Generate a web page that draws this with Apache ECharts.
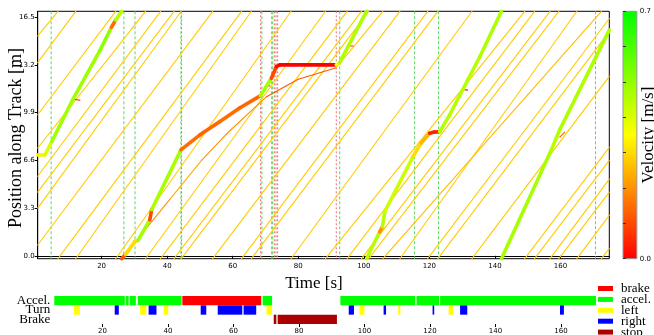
<!DOCTYPE html>
<html>
<head>
<meta charset="utf-8">
<script src="https://cdn.jsdelivr.net/npm/echarts@6/dist/echarts.min.js"></script>
<style>
  html, body { margin: 0; padding: 0; background: #fff; }
  #chart { width: 654px; height: 335px; }
</style>
</head>
<body>
<div id="chart"></div>
<script>
// axis ticks
const timeTicks = [20, 40, 60, 80, 100, 120, 140, 160];
const posTicks = [0.0, 3.3, 6.6, 9.9, 13.2, 16.5];
const velTicks = [0, 0.1, 0.2, 0.3, 0.4, 0.5, 0.6, 0.7];
const velLabels = [0, 0.7];
const rowNames = ['Accel.', 'Turn', 'Brake'];

// other robots: position at left edge, times they wrap round the track, position at right edge
const robotEntry = [15.2, 13.35, 9.75, 7.45, 5.5, 4.4, 3.3, 0.75];
const robotWraps = [
  [6.7, 62.7, 119.5],
  [12.1, 65.7, 122.6],
  [24.3, 77.8, 133.0],
  [33.4, 88.3, 149.1],
  [38.0, 94.9, 152.1],
  [42.1, 99.3, 156.8],
  [44.3, 101.5, 159.5],
  [53.9, 111.0, 165.0]
];
const robotExit = [16.4, 15.5, 12.4, 7.5, 6.6, 5.3, 4.4, 2.8];
const robotVel = 0.28;

// robot stuck behind the controlled vehicle (null = wrap)
const followerT   = [26.2, 34.0, 40.8, 50.5, 58.0, 70.3, 80.0, 91.6, 105.8, 105.8, 105.8, 172.5, 172.5, 172.5, 174.9];
const followerPos = [-0.2, 2.0, 3.9, 6.6, 8.4, 11.0, 12.2, 13.0, 16.9, null, -0.2, 16.9, null, -0.2, 0.5];
const followerVel = [0.26, 0.2, 0.24, 0.2, 0.2, 0.12, 0.12, 0.28, 0, 0, 0.26, 0, 0, 0.28, 0];

// controlled vehicle (null = wrap)
const mainT = [0.5, 2.7, 4.8, 11.2, 19.5, 23.0, 24.3, 26.1, 26.1,
  26.1, 27.3, 30.2, 31.1, 34.7, 35.3, 44.2, 50.0, 56.0, 62.0, 68.5, 71.8, 73.3, 74.4, 91.6, 92.6, 100.8, 100.8,
  100.8, 104.85, 105.7, 106.4, 115.0, 117.5, 120.1, 121.5, 123.15, 126.2, 131.7, 135.4, 142.0, 142.0,
  142.0, 157.2, 159.75, 174.9];
const mainPos = [6.97, 6.97, 7.9, 10.8, 14.2, 15.8, 16.3, 16.9, null,
  -0.2, 0.1, 1.0, 1.06, 2.49, 3.2, 7.32, 8.36, 9.27, 10.2, 11.07, 12.27, 13.07, 13.2, 13.2, 13.33, 16.9, null,
  -0.2, 1.66, 2.02, 3.06, 6.86, 7.8, 8.47, 8.55, 8.58, 9.74, 12.15, 13.76, 16.9, null,
  -0.2, 7.32, 8.7, 15.6];
const mainVel = [0.33, 0.4, 0.48, 0.48, 0.5, 0.15, 0.45, 0, 0,
  0.12, 0.3, 0.3, 0.48, 0.1, 0.47, 0.15, 0.14, 0.15, 0.14, 0.48, 0.1, 0.02, 0.0, 0.35, 0.46, 0, 0,
  0.45, 0.2, 0.45, 0.42, 0.3, 0.25, 0.05, 0.05, 0.45, 0.45, 0.45, 0.46, 0, 0,
  0.47, 0.45, 0.46, 0];

// short slow-downs of other robots
const blipT0 = [11.9, 69.8, 95.8, 130.2, 159.8];
const blipT1 = [13.4, 71.3, 96.8, 131.7, 161.3];
const blipPos0 = [10.8, 11.7, 14.5, 11.5, 8.2];
const blipPos1 = [10.75, 11.75, 14.5, 11.45, 8.55];
const blipVel = [0.03, 0.03, 0.08, 0.03, 0.12];

// event markers
const greenEvents = [4.6, 26.8, 30.2, 44.2, 68.9, 71.9, 72.2, 92.65, 115.5, 122.8, 170.7];
const redEvents = [44.4, 68.5, 72.7, 73.2, 73.7, 91.6];

// lower panel: [start, end]
const brakeBars = [[44.4, 68.5]];
const accelBars = [[5.3, 26.8], [27.1, 28.0], [28.3, 30.2], [30.8, 44.2], [68.9, 71.8], [92.65, 115.5], [115.9, 122.8], [123.1, 170.7]];
const leftBars = [[11.3, 13.1], [31.5, 33.4], [38.7, 40.1], [70.1, 71.8], [98.5, 100.0], [110.3, 110.95], [125.7, 127.1]];
const rightBars = [[23.75, 25.0], [34.1, 36.5], [50.0, 51.7], [55.2, 62.7], [63.1, 66.95], [95.2, 96.8], [105.85, 106.6], [120.8, 121.3], [129.2, 131.4], [159.7, 160.9]];
const stopBars = [[72.3, 73.1], [73.5, 91.6]];

const T_MIN = 0.5, T_MAX = 174.9, P_MIN = -0.2, P_MAX = 16.9;

function polySegs(ts, ps, vs) {
  const out = [];
  for (let i = 0; i < ts.length - 1; i++) {
    if (ps[i] == null || ps[i + 1] == null) continue;
    out.push([ts[i], ps[i], ts[i + 1], ps[i + 1], vs[i]]);
  }
  return out;
}

const thinSegs = [];
robotWraps.forEach((w, k) => {
  thinSegs.push([T_MIN, robotEntry[k], w[0], P_MAX, robotVel]);
  for (let i = 0; i < w.length - 1; i++) thinSegs.push([w[i], P_MIN, w[i + 1], P_MAX, robotVel]);
  thinSegs.push([w[w.length - 1], P_MIN, T_MAX, robotExit[k], robotVel]);
});
polySegs(followerT, followerPos, followerVel).forEach(s => thinSegs.push(s));
blipT0.forEach((t, i) => thinSegs.push([t, blipPos0[i], blipT1[i], blipPos1[i], blipVel[i]]));

const mainSegs = polySegs(mainT, mainPos, mainVel);
const events = greenEvents.map(t => [t, 0]).concat(redEvents.map(t => [t, 1]));

function segRender(width) {
  return function (params, api) {
    const a = api.coord([api.value(0), api.value(1)]);
    const b = api.coord([api.value(2), api.value(3)]);
    return {
      type: 'line',
      shape: { x1: a[0], y1: a[1], x2: b[0], y2: b[1] },
      style: { stroke: api.visual('color'), lineWidth: width, lineCap: 'round' }
    };
  };
}

function barRender(params, api) {
  const s = api.coord([api.value(1), api.value(0)]);
  const e = api.coord([api.value(2), api.value(0)]);
  const h = api.size([0, 1])[1];
  return {
    type: 'rect',
    shape: { x: s[0], y: s[1] - h / 2, width: e[0] - s[0], height: h },
    style: { fill: api.visual('color') }
  };
}

function barSeries(name, row, bars, color) {
  return {
    name: name,
    type: 'custom',
    xAxisIndex: 1,
    yAxisIndex: 1,
    renderItem: barRender,
    itemStyle: { color: color },
    encode: { x: [1, 2], y: 0 },
    data: bars.map(b => [row, b[0], b[1]])
  };
}

const chart = echarts.init(document.getElementById('chart'));
const tickFont = { fontFamily: 'DejaVu Sans', fontSize: 7, color: '#000' };
const serif = 'Liberation Serif';

chart.setOption({
  backgroundColor: '#fff',
  animation: false,
  grid: [
    { left: 37.7, right: 44.7, top: 11.3, bottom: 76.3, show: true, borderColor: '#000', borderWidth: 1 },
    { left: 54.3, right: 58, top: 296, bottom: 9 },
    {
      left: 623, right: 15.7, top: 11.3, bottom: 76.3, show: true, borderColor: '#999', borderWidth: 1,
      backgroundColor: new echarts.graphic.LinearGradient(0, 0, 0, 1, [
        { offset: 0, color: '#00ff00' },
        { offset: 0.5, color: '#ffff00' },
        { offset: 1, color: '#ff0000' }
      ])
    }
  ],
  xAxis: [
    {
      type: 'value', gridIndex: 0, min: T_MIN, max: T_MAX,
      axisLine: { show: true, lineStyle: { color: '#000' } },
      axisTick: { show: true, length: 3, customValues: timeTicks, lineStyle: { color: '#000' } },
      axisLabel: { customValues: timeTicks, margin: 4, ...tickFont },
      splitLine: { show: false }
    },
    {
      type: 'value', gridIndex: 1, min: 5.3, max: 170.7,
      axisLine: { show: false },
      axisTick: { show: true, length: 3, customValues: timeTicks, lineStyle: { color: '#000' } },
      axisLabel: { customValues: timeTicks, margin: 4, ...tickFont },
      splitLine: { show: false }
    },
    { type: 'value', gridIndex: 2, show: false, min: 0, max: 1 }
  ],
  yAxis: [
    {
      type: 'value', gridIndex: 0, min: P_MIN, max: P_MAX,
      axisLine: { show: true, lineStyle: { color: '#000' } },
      axisTick: { show: true, length: 3, customValues: posTicks, lineStyle: { color: '#000' } },
      axisLabel: { customValues: posTicks, margin: 3, formatter: v => v.toFixed(1), ...tickFont },
      splitLine: { show: false }
    },
    {
      type: 'category', gridIndex: 1, data: rowNames, inverse: true,
      axisLine: { show: false }, axisTick: { show: false },
      axisLabel: { interval: 0, margin: 4, fontFamily: serif, fontSize: 13, lineHeight: 10, padding: [3, 0, 0, 0], color: '#000' }
    },
    {
      type: 'value', gridIndex: 2, min: 0, max: 0.7, position: 'right',
      axisLine: { show: false },
      axisTick: { show: true, length: 3, customValues: velTicks, lineStyle: { color: '#333' } },
      axisLabel: { customValues: velLabels, margin: 3, formatter: v => v.toFixed(1), ...tickFont },
      splitLine: { show: false }
    }
  ],
  visualMap: {
    show: false,
    type: 'continuous',
    min: 0, max: 0.7,
    dimension: 4,
    seriesIndex: [1, 2],
    inRange: { color: ['#ff0000', '#ffff00', '#00ff00'] }
  },
  legend: {
    orient: 'vertical',
    left: 598, top: 282,
    height: 80,
    padding: 0,
    icon: 'rect',
    itemWidth: 15, itemHeight: 5, itemGap: -2.1,
    selectedMode: false,
    textStyle: { fontFamily: serif, fontSize: 13, color: '#000', padding: [0, 0, 0, 3] },
    data: ['brake', 'accel.', 'left', 'right', 'stop']
  },
  graphic: [
    { type: 'text', x: 314, y: 284, style: { text: 'Time [s]', font: '17px "Liberation Serif"', fill: '#000', align: 'center', verticalAlign: 'middle' } },
    { type: 'text', x: 16, y: 138, rotation: Math.PI / 2, style: { text: 'Position along Track [m]', font: '18px "Liberation Serif"', fill: '#000', align: 'center', verticalAlign: 'middle' } },
    { type: 'text', x: 649, y: 135, rotation: Math.PI / 2, style: { text: 'Velocity [m/s]', font: '17px "Liberation Serif"', fill: '#000', align: 'center', verticalAlign: 'middle' } }
  ],
  series: [
    {
      type: 'custom',
      xAxisIndex: 0, yAxisIndex: 0,
      silent: true,
      encode: { x: 0 },
      data: events,
      renderItem: function (params, api) {
        const x = api.coord([api.value(0), 0])[0];
        const cs = params.coordSys;
        const red = api.value(1) === 1;
        return {
          type: 'line',
          shape: { x1: x, y1: cs.y, x2: x, y2: cs.y + cs.height },
          style: { stroke: red ? '#ec7070' : '#5ed65e', lineWidth: 1, lineDash: red ? [2, 2] : [3, 2] }
        };
      }
    },
    {
      type: 'custom',
      xAxisIndex: 0, yAxisIndex: 0,
      silent: true,
      encode: { x: [0, 2], y: [1, 3] },
      data: thinSegs,
      renderItem: segRender(1.1)
    },
    {
      type: 'custom',
      xAxisIndex: 0, yAxisIndex: 0,
      silent: true,
      encode: { x: [0, 2], y: [1, 3] },
      data: mainSegs,
      renderItem: segRender(3.6)
    },
    barSeries('brake', 0, brakeBars, '#ff0000'),
    barSeries('accel.', 0, accelBars, '#00ff00'),
    barSeries('left', 1, leftBars, '#ffff00'),
    barSeries('right', 1, rightBars, '#0000ff'),
    barSeries('stop', 2, stopBars, '#aa0000')
  ]
});
</script>
</body>
</html>
